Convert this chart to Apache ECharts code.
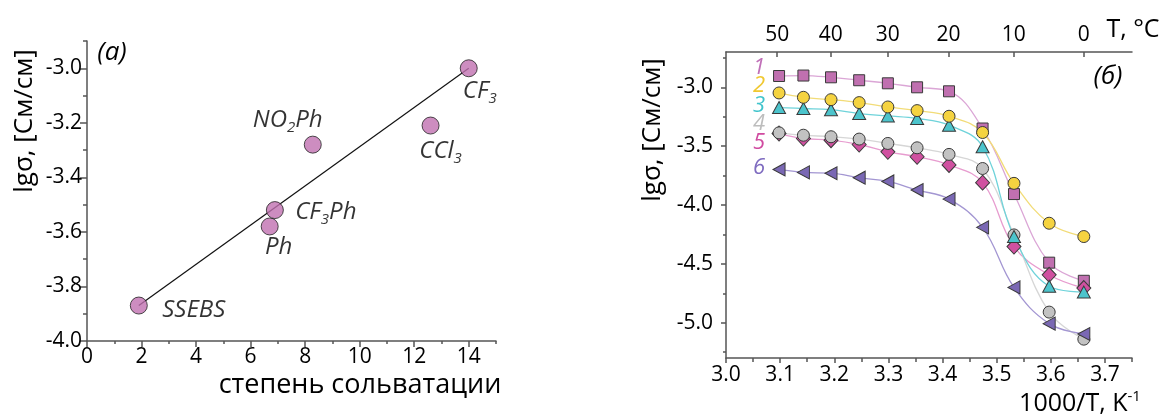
<!DOCTYPE html>
<html><head><meta charset="utf-8">
<script src="https://cdn.jsdelivr.net/npm/echarts@6/dist/echarts.min.js"></script>
<style>html,body{margin:0;padding:0;background:#fff}#c{width:1161px;height:419px}</style>
</head><body><div id="c"></div>
<script>
// ---- left panel (a) ----
const solvNames = ['SSEBS', 'Ph', 'CF3Ph', 'NO2Ph', 'CCl3', 'CF3'];
const solvX = [1.9, 6.7, 6.89, 8.28, 12.6, 14.0];
const solvY = [-3.87, -3.58, -3.52, -3.28, -3.21, -3.0];
const fitX = [1.9, 14.0];
const fitY = [-3.87, -3.0];
const leftXTicks = [0, 2, 4, 6, 8, 10, 12, 14];
const leftXMinor = [1, 3, 5, 7, 9, 11, 13, 15];
const leftYTicks = [-4.0, -3.8, -3.6, -3.4, -3.2, -3.0];
const leftYMinor = [-3.9, -3.7, -3.5, -3.3, -3.1, -2.9];

// ---- right panel (б) ----
const invT = [3.098, 3.143, 3.194, 3.246, 3.299, 3.353, 3.412, 3.474, 3.532, 3.597, 3.661];
const s1 = [-2.904, -2.90, -2.915, -2.94, -2.966, -3.0, -3.034, -3.35, -3.907, -4.49, -4.644];
const s2 = [-3.048, -3.085, -3.105, -3.13, -3.167, -3.198, -3.246, -3.384, -3.816, -4.155, -4.268];
const s3 = [-3.172, -3.18, -3.19, -3.223, -3.243, -3.265, -3.322, -3.505, -4.268, -4.69, -4.74];
const s4 = [-3.387, -3.407, -3.42, -3.44, -3.477, -3.514, -3.57, -3.69, -4.254, -4.91, -5.14];
const s5 = [-3.393, -3.435, -3.449, -3.486, -3.548, -3.59, -3.66, -3.81, -4.353, -4.593, -4.706];
const s6 = [-3.698, -3.723, -3.73, -3.768, -3.80, -3.873, -3.95, -4.19, -4.70, -5.008, -5.096];
const rightXTicks = [3.0, 3.1, 3.2, 3.3, 3.4, 3.5, 3.6, 3.7];
const rightXMinor = [3.05, 3.15, 3.25, 3.35, 3.45, 3.55, 3.65, 3.75];
const rightYTicks = [-5.0, -4.5, -4.0, -3.5, -3.0];
const rightYMinor = [-5.25, -4.75, -4.25, -3.75, -3.25, -2.75];
const topTempTicks = [50, 40, 30, 20, 10, 0];
const seriesNumbers = ['1', '2', '3', '4', '5', '6'];

const FONT = '"Open Sans", "Noto Sans", sans-serif';
const AX = '#555';

// label placement (style only): offset of label centre from point centre
const labelOffsets = [[55, 5], [9, 21], [51, 2], [-25, -24], [10, 26], [11, 23]];

function richName(n) {
  return '{m|' + n.replace(/(\d)/g, '}{s|$1}{m|') + '}';
}

const leftData = solvX.map((x, i) => ({
  value: [x, solvY[i]],
  name: solvNames[i],
  label: { offset: labelOffsets[i] }
}));

function majorAxis(grid, pos, min, max, ticks, len, margin, fmt, extra) {
  return Object.assign({
    type: 'value', gridIndex: grid, position: pos, min: min, max: max,
    axisLine: { show: true, onZero: false, lineStyle: { color: AX, width: 1.5 } },
    axisTick: { show: true, customValues: ticks, length: len, lineStyle: { color: AX, width: 1.5 } },
    axisLabel: { show: true, customValues: ticks, margin: margin, formatter: fmt,
      color: '#000', fontSize: 21, fontFamily: FONT },
    splitLine: { show: false }
  }, extra || {});
}
function minorAxis(grid, pos, min, max, ticks, len, extra) {
  return Object.assign({
    type: 'value', gridIndex: grid, position: pos, min: min, max: max,
    axisLine: { show: false, onZero: false },
    axisTick: { show: true, customValues: ticks, length: len, lineStyle: { color: AX, width: 1.5 } },
    axisLabel: { show: false },
    splitLine: { show: false }
  }, extra || {});
}

const mk = (data, sym, size, color, lineColor, extra) => Object.assign({
  type: 'line', xAxisIndex: 2, yAxisIndex: 2,
  data: invT.map((x, i) => [x, data[i]]),
  smooth: 0.4,
  symbol: sym, symbolSize: size, showAllSymbol: true,
  itemStyle: { color: color, borderColor: '#3a3a3a', borderWidth: 1 },
  lineStyle: { color: lineColor, width: 1.3 },
  emphasis: { disabled: true }, animation: false
}, extra || {});

const legendColors = ['#c070b8', '#f0c830', '#40c4cc', '#bdbdbd', '#d04aa0', '#7f6cc0'];
const legendY = [68, 86, 106, 124, 143, 168];

const option = {
  animation: false,
  grid: [
    { left: 87, top: 41, width: 409, height: 300 },
    { left: 726, top: 52, width: 406, height: 306 }
  ],
  xAxis: [
    majorAxis(0, 'bottom', 0, 15, leftXTicks, 6, 6, v => String(Math.round(v))),
    minorAxis(0, 'bottom', 0, 15, leftXMinor, 3),
    majorAxis(1, 'bottom', 3.0, 3.75, rightXTicks, 5, 7, v => v.toFixed(1)),
    minorAxis(1, 'bottom', 3.0, 3.75, rightXMinor, 4),
    majorAxis(1, 'top', 3.0, 3.75, topTempTicks.map(t => 1000 / (t + 273.15)), 5, 6,
      v => String(Math.round(1000 / v - 273.15)),
      { axisTick: { show: true, inside: true, length: 5,
        customValues: topTempTicks.map(t => 1000 / (t + 273.15)), lineStyle: { color: AX, width: 1.5 } } })
  ],
  yAxis: [
    majorAxis(0, 'left', -4.0, -2.9, leftYTicks, 7, 5, v => v.toFixed(1)),
    minorAxis(0, 'left', -4.0, -2.9, leftYMinor, 4),
    majorAxis(1, 'left', -5.3, -2.7, rightYTicks, 5, 13, v => v.toFixed(1)),
    minorAxis(1, 'left', -5.3, -2.7, rightYMinor, 3)
  ],
  series: [
    { type: 'line', xAxisIndex: 0, yAxisIndex: 0, data: fitX.map((x, i) => [x, fitY[i]]),
      symbol: 'none', lineStyle: { color: '#111', width: 1.2 }, z: 1, silent: true },
    { type: 'scatter', xAxisIndex: 0, yAxisIndex: 0, data: leftData, z: 3,
      symbol: 'circle', symbolSize: 17,
      itemStyle: { color: '#c070b0', borderColor: '#222', borderWidth: 1 },
      label: { show: true, position: 'inside', color: '#000', textBorderWidth: 0,
        formatter: p => richName(p.name),
        rich: {
          m: { fontSize: 24, fontStyle: 'italic', fontFamily: FONT, color: '#000', lineHeight: 30, textBorderWidth: 0 },
          s: { fontSize: 15, fontStyle: 'italic', fontFamily: FONT, color: '#000', lineHeight: 13, verticalAlign: 'bottom', textBorderWidth: 0 }
        } },
      emphasis: { disabled: true } },
    mk(s1, 'rect', 11, '#c070b0', '#dba6d6'),
    mk(s5, 'diamond', [14, 15], '#d050a0', '#e79ccf'),
    mk(s4, 'circle', 12, '#c2c2c2', '#d6d6d6'),
    mk(s3, 'triangle', [13, 12], '#4cc4cc', '#6fd3da'),
    mk(s2, 'circle', 12, '#f5d340', '#f2dc78'),
    mk(s6, 'triangle', [13, 12], '#7a68b4', '#a396d2', { symbolRotate: 90 })
  ],
  graphic: [
    { type: 'text', x: 112, y: 53, style: { text: '(a)', font: 'italic 26px ' + FONT, fill: '#000', align: 'center', verticalAlign: 'middle', textAlign: 'center', textVerticalAlign: 'middle' } },
    { type: 'text', x: 1108, y: 77, style: { text: '(б)', font: 'italic 26px ' + FONT, fill: '#000', align: 'center', verticalAlign: 'middle', textAlign: 'center', textVerticalAlign: 'middle' } },
    { type: 'text', x: 25, y: 121, rotation: Math.PI / 2, style: { text: 'lgσ, [См/см]', font: '26px ' + FONT, fill: '#000', align: 'center', verticalAlign: 'middle', textAlign: 'center', textVerticalAlign: 'middle' } },
    { type: 'text', x: 653, y: 130, rotation: Math.PI / 2, style: { text: 'lgσ, [См/см]', font: '26px ' + FONT, fill: '#000', align: 'center', verticalAlign: 'middle', textAlign: 'center', textVerticalAlign: 'middle' } },
    { type: 'text', x: 360, y: 385, style: { text: 'степень сольватации', font: '27px ' + FONT, fill: '#000', align: 'center', verticalAlign: 'middle', textAlign: 'center', textVerticalAlign: 'middle' } },
    { type: 'text', x: 1133, y: 30, style: { text: 'T, °C', font: '25px ' + FONT, fill: '#000', align: 'center', verticalAlign: 'middle', textAlign: 'center', textVerticalAlign: 'middle' } },
    { type: 'text', x: 1080, y: 404, style: { text: '{a|1000/T, K}{b|-1}', fill: '#000', align: 'center', verticalAlign: 'middle', textAlign: 'center', textVerticalAlign: 'middle',
      rich: { a: { fontSize: 25, fontFamily: FONT, lineHeight: 30, fill: '#000' }, b: { fontSize: 15, fontFamily: FONT, lineHeight: 14, verticalAlign: 'top', fill: '#000' } } } }
  ].concat(seriesNumbers.map((n, i) => ({
    type: 'text', x: 759, y: legendY[i],
    style: { text: n, font: 'italic 22px ' + FONT, fill: legendColors[i], align: 'center', verticalAlign: 'middle', textAlign: 'center', textVerticalAlign: 'middle' }
  })))
};

const chart = echarts.init(document.getElementById('c'), null, { renderer: 'canvas' });
chart.setOption(option);
</script>
</body></html>
